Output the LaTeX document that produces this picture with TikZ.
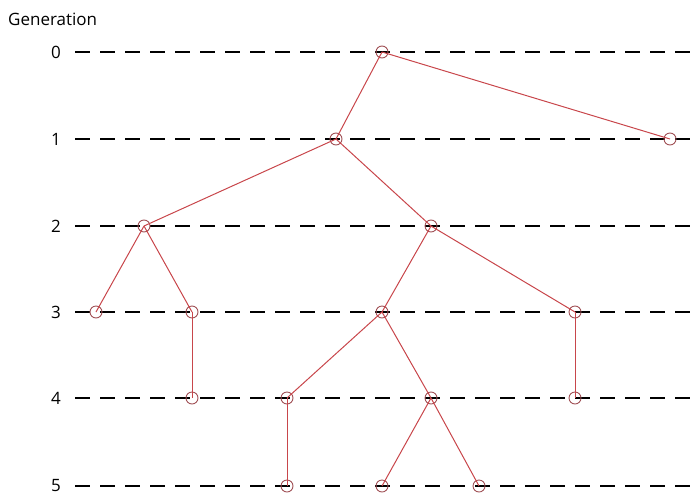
\documentclass[tikz,border=0pt]{standalone}
\usepackage{fontspec}
\setmainfont{Open Sans}
\definecolor{treered}{RGB}{200,70,75}
\definecolor{ringred}{RGB}{160,80,85}
\begin{document}
\begin{tikzpicture}[x=1pt,y=-1pt,font=\fontsize{17}{19}\selectfont,
  gen/.style={draw=black,line width=1.2pt,dash pattern=on 15pt off 10pt},
  lbl/.style={anchor=center,inner sep=0pt},
  nd/.style={circle,draw=ringred,line width=0.9pt,fill=none,minimum size=12pt,inner sep=0pt},
  br/.style={draw=treered,line width=1pt}]
  \useasboundingbox (0,0) rectangle (700,498);
  \node[anchor=west,inner sep=0pt] (title) at (8,19){Generation};
  % generation levels
  \foreach \g/\y in {0/52,1/139,2/226,3/312,4/398,5/486}{
    \node[lbl] (g\g) at (56,\y){\g};
    \coordinate (e\g) at (700,\y);
    \draw[gen] (75,\y) -- (e\g);
  }
  % tree
  \node[nd] (r)   at (382,52){};
  \node[nd] (a)   at (336,139){};
  \node[nd] (b)   at (670,139){};
  \node[nd] (aa)  at (144,226){};
  \node[nd] (ab)  at (431,226){};
  \node[nd] (aaa) at (96,312){};
  \node[nd] (aab) at (192,312){};
  \node[nd] (aba) at (382,312){};
  \node[nd] (abb) at (575,312){};
  \node[nd] (aabx) at (192,398){};
  \node[nd] (abaa) at (287,398){};
  \node[nd] (abab) at (431,398){};
  \node[nd] (abbx) at (575,398){};
  \node[nd] (abaax) at (287,486){};
  \node[nd] (ababa) at (382,486){};
  \node[nd] (ababb) at (479,486){};
  \draw[br] (r.center) -- (a.center) (r.center) -- (b.center);
  \draw[br] (a.center) -- (aa.center) (a.center) -- (ab.center);
  \draw[br] (aa.center) -- (aaa.center) (aa.center) -- (aab.center);
  \draw[br] (aab.center) -- (aabx.center);
  \draw[br] (ab.center) -- (aba.center) (ab.center) -- (abb.center);
  \draw[br] (aba.center) -- (abaa.center) (aba.center) -- (abab.center);
  \draw[br] (abb.center) -- (abbx.center);
  \draw[br] (abaa.center) -- (abaax.center);
  \draw[br] (abab.center) -- (ababa.center) (abab.center) -- (ababb.center);
\end{tikzpicture}
\end{document}
